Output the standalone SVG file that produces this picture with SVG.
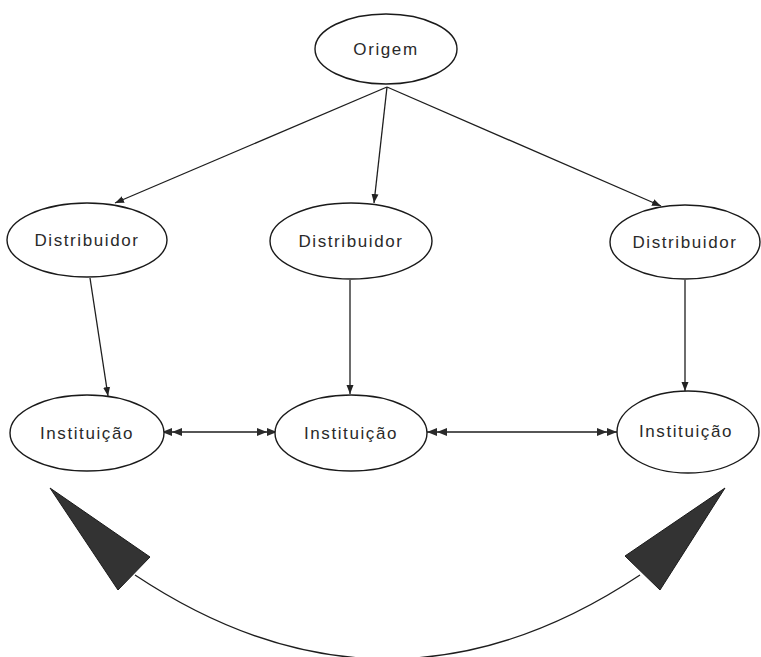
<svg xmlns="http://www.w3.org/2000/svg" width="761" height="657" viewBox="0 0 761 657">
  <style>
    .node ellipse { fill: #ffffff; stroke: #1a1a1a; stroke-width: 1.4; }
    .node text { font-family: "Liberation Sans", Arial, sans-serif; font-size: 17px; letter-spacing: 1.6px; fill: #2a2a2a; text-anchor: middle; }
    .edge { stroke: #1e1e1e; stroke-width: 1.3; fill: none; }
    .big { fill: #333333; stroke: #1a1a1a; stroke-width: 1; }
  </style>
  <defs>
    <marker id="arrow" markerUnits="userSpaceOnUse" markerWidth="10" markerHeight="8" refX="9" refY="4" orient="auto">
      <path d="M0,0.5 L9,4 L0,7.5 Z" fill="#222222"/>
    </marker>
    <marker id="dbl" markerUnits="userSpaceOnUse" markerWidth="24" markerHeight="10" refX="22" refY="5" orient="auto-start-reverse">
      <path d="M12,1 L22,5 L12,9 Z M2,1 L12,5 L2,9 Z" fill="#2a2a2a"/>
    </marker>
  </defs>

  <!-- connectors -->
  <g id="connectors">
    <line class="edge" x1="387" y1="87" x2="115" y2="203" marker-end="url(#arrow)"/>
    <line class="edge" x1="387" y1="87" x2="374" y2="203" marker-end="url(#arrow)"/>
    <line class="edge" x1="387" y1="87" x2="661" y2="206" marker-end="url(#arrow)"/>
    <line class="edge" x1="90" y1="278" x2="108" y2="396" marker-end="url(#arrow)"/>
    <line class="edge" x1="350" y1="280" x2="350" y2="394" marker-end="url(#arrow)"/>
    <line class="edge" x1="685" y1="280" x2="685" y2="391" marker-end="url(#arrow)"/>
    <line class="edge" x1="162" y1="432" x2="277" y2="432" marker-start="url(#dbl)" marker-end="url(#dbl)"/>
    <line class="edge" x1="427" y1="432" x2="617" y2="432" marker-start="url(#dbl)" marker-end="url(#dbl)"/>
    <!-- large curved double arrow -->
    <path class="edge" d="M135,575 Q387.5,743 640,575"/>
    <polygon class="big" points="50,488 150,557 118,590"/>
    <polygon class="big" points="725,488 625,556 660,590"/>
  </g>

  <g id="origem" class="node">
    <ellipse cx="386" cy="49" rx="71" ry="35"/>
    <text x="386" y="55">Origem</text>
  </g>
  <g id="distribuidor-1" class="node">
    <ellipse cx="87" cy="240" rx="80" ry="37"/>
    <text x="87" y="246">Distribuidor</text>
  </g>
  <g id="distribuidor-2" class="node">
    <ellipse cx="351" cy="241" rx="81" ry="38"/>
    <text x="351" y="247">Distribuidor</text>
  </g>
  <g id="distribuidor-3" class="node">
    <ellipse cx="685" cy="242" rx="75" ry="37"/>
    <text x="685" y="248">Distribuidor</text>
  </g>
  <g id="instituicao-1" class="node">
    <ellipse cx="87" cy="433" rx="77" ry="38"/>
    <text x="87" y="439">Instituição</text>
  </g>
  <g id="instituicao-2" class="node">
    <ellipse cx="351" cy="433" rx="76" ry="38"/>
    <text x="351" y="439">Instituição</text>
  </g>
  <g id="instituicao-3" class="node">
    <ellipse cx="688" cy="432" rx="71" ry="41"/>
    <text x="686" y="437">Instituição</text>
  </g>
</svg>
